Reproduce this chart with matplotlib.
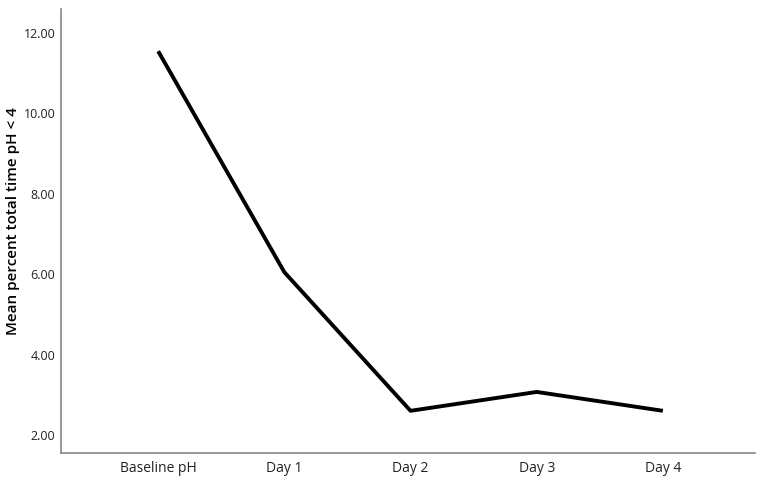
import matplotlib
matplotlib.use('Agg')
import matplotlib.pyplot as plt

categories = ['Baseline pH', 'Day 1', 'Day 2', 'Day 3', 'Day 4']
mean_pct = [11.55, 6.05, 2.6, 3.07, 2.6]
yticks = [2, 4, 6, 8, 10, 12]

plt.rcParams['font.family'] = ['Open Sans', 'DejaVu Sans']

fig = plt.figure(figsize=(7.6, 4.83), dpi=100)
ax = fig.add_axes([0.0803, 0.0621, 0.9131, 0.9193])

x = list(range(len(categories)))
ax.plot(x, mean_pct, color='black', lw=2.8, solid_capstyle='butt')

ax.set_xlim(-0.77, 4.73)
ax.set_ylim(1.55, 12.6)
ax.set_xticks(x)
ax.set_xticklabels(categories, fontsize=10, color='#222222')
ax.set_yticks(yticks)
ax.set_yticklabels(['%.2f' % v for v in yticks], fontsize=9, color='#222222')
ax.tick_params(axis='y', length=0, pad=4)
ax.tick_params(axis='x', length=0, pad=6)

for side in ('top', 'right'):
    ax.spines[side].set_visible(False)
for side in ('left', 'bottom'):
    ax.spines[side].set_color('#888888')
    ax.spines[side].set_linewidth(1.2)

fig.text(0.0165, 0.542, 'Mean percent total time pH < 4', rotation=90,
         va='center', ha='center', fontsize=11, fontweight='semibold', color='black')

fig.savefig('out.png', dpi=100)
